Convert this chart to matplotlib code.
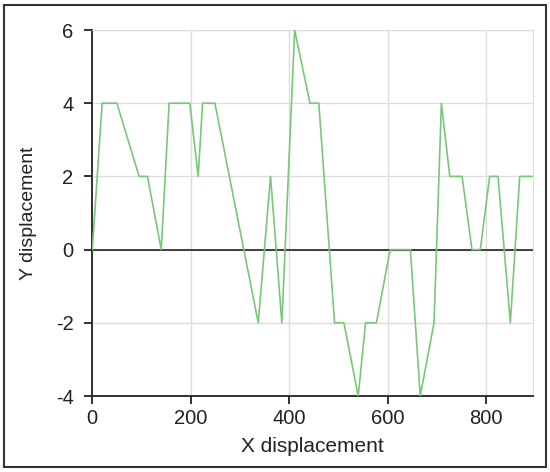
import matplotlib.pyplot as plt
from matplotlib.patches import Rectangle

# walk path
x_disp = [0, 20, 50, 95, 112, 140, 156, 198, 215, 224, 249, 337, 362, 385,
          411, 442, 460, 492, 511, 540, 555, 577, 605, 646, 666, 694, 709,
          726, 751, 771, 788, 807, 824, 849, 868, 895]
y_disp = [0, 4, 4, 2, 2, 0, 4, 4, 2, 4, 4, -2, 2, -2,
          6, 4, 4, -2, -2, -4, -2, -2, 0, 0, -4, -2, 4,
          2, 2, 0, 0, 2, 2, -2, 2, 2]
x_ticks = [0, 200, 400, 600, 800]
y_ticks = [-4, -2, 0, 2, 4, 6]

plt.rcParams['font.family'] = ['Liberation Sans', 'DejaVu Sans']
plt.rcParams['axes.unicode_minus'] = False

fig = plt.figure(figsize=(5.5, 4.72), dpi=100)
ax = fig.add_axes([92.3/550, 1-396/472, (533-92.3)/550, (396-30)/472])

ax.plot(x_disp, y_disp, color='#78c878', lw=1.2, zorder=3)
ax.axhline(0, color='#222222', lw=1.2, zorder=2)

ax.set_xlim(0, 895)
ax.set_ylim(-4, 6)
ax.set_xticks(x_ticks)
ax.set_yticks(y_ticks)
ax.grid(True, color='#dddddd', lw=1)
ax.set_axisbelow(True)

for s in ['top', 'right']:
    ax.spines[s].set_color('#dddddd')
for s in ['left', 'bottom']:
    ax.spines[s].set_color('#222222')
    ax.spines[s].set_linewidth(1.3)

ax.tick_params(length=6, width=1.3, color='#222222', labelsize=14.5,
               labelcolor='#222222')
ax.tick_params(axis='x', pad=3)
ax.tick_params(axis='y', pad=7.5)
ax.set_xlabel('X displacement', fontsize=15, color='#222222')
ax.set_ylabel('Y displacement', fontsize=14, color='#222222')
ax.xaxis.set_label_coords(0.5, -0.112)
ax.yaxis.set_label_coords(-0.125, 0.5)

# frame round the whole picture
fig.patches.append(Rectangle((4/550, 5/472), 542/550, 462/472,
                             transform=fig.transFigure, fill=False,
                             edgecolor='#333333', lw=1.5))

fig.savefig('out.png', dpi=100)
